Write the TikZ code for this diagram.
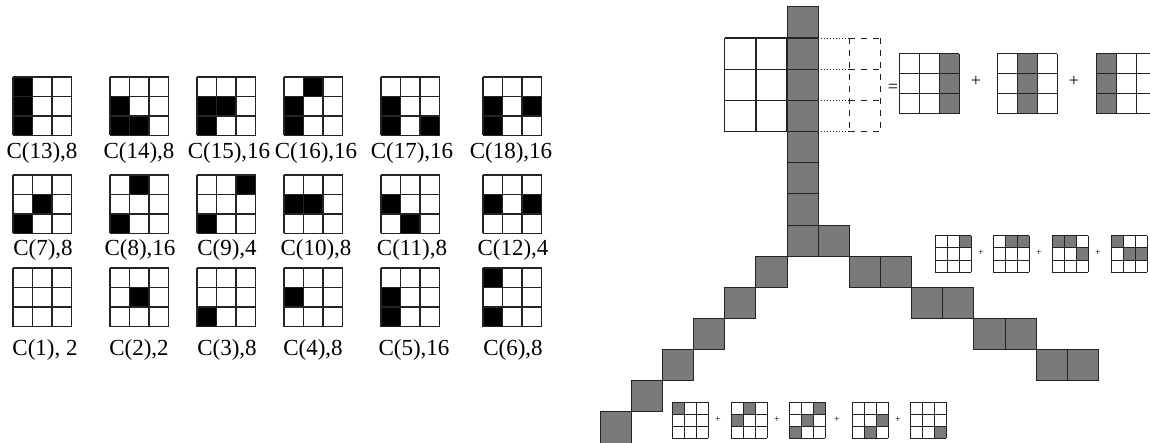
\documentclass[tikz,border=0pt]{standalone}
\usepackage{fontspec}
\setmainfont{Liberation Serif}
\definecolor{ink}{RGB}{35,35,35}
\definecolor{halftone}{RGB}{122,122,122}

% 3x3 pattern: left, top, cell size, fill colour, filled cells row/col
\newcommand{\patgrid}[5]{%
  \foreach \rr/\cc in {#5} {\fill[#4] ({#1+\cc*#3},{#2+\rr*#3}) rectangle ++(#3,#3);}
  \foreach \i in {0,...,3} {
    \draw[gridline] ({#1+\i*#3},#2) -- ++(0,3*#3);
    \draw[gridline] (#1,{#2+\i*#3}) -- ++(3*#3,0);}
}
% one gray cell of the band (col, row), band scope units
\newcommand{\bandcell}[2]{\draw[band] (#1,#2) rectangle ++(1,1);}

\begin{document}
\begin{tikzpicture}[x=0.5pt,y=-0.5pt,
  gridline/.style={draw=ink,line width=0.65pt},
  lbl/.style={font=\fontsize{11.5}{13}\selectfont,inner sep=0pt},
  band/.style={fill=halftone,draw=ink,line width=0.5pt},
  sign/.style={font=\fontsize{9}{9}\selectfont,inner sep=0pt},
  tinysign/.style={font=\fontsize{5}{5}\selectfont,inner sep=0pt}]
\useasboundingbox (0,0) rectangle (1150,443);

% configurations C(1)..C(18)
\patgrid{13}{77}{19.5}{black}{0/0,1/0,2/0}
\patgrid{110}{77}{19.5}{black}{1/0,2/0,2/1}
\patgrid{197}{77}{19.5}{black}{1/0,1/1,2/0}
\patgrid{284}{77}{19.5}{black}{0/1,1/0,2/0}
\patgrid{381}{77}{19.5}{black}{1/0,2/0,2/2}
\patgrid{483}{77}{19.5}{black}{1/0,2/0,1/2}
\node[lbl] (c13) at (42,153) {C(13),8};
\node[lbl] (c14) at (139,153) {C(14),8};
\node[lbl] (c15) at (229,153) {C(15),16};
\node[lbl] (c16) at (316,153) {C(16),16};
\node[lbl] (c17) at (412,153) {C(17),16};
\node[lbl] (c18) at (511,153) {C(18),16};

\patgrid{13}{175}{19.5}{black}{1/1,2/0}
\patgrid{110}{175}{19.5}{black}{0/1,2/0}
\patgrid{197}{175}{19.5}{black}{0/2,2/0}
\patgrid{284}{175}{19.5}{black}{1/0,1/1}
\patgrid{381}{175}{19.5}{black}{1/0,2/1}
\patgrid{483}{175}{19.5}{black}{1/0,1/2}
\node[lbl] (c7) at (43,250) {C(7),8};
\node[lbl] (c8) at (140,250) {C(8),16};
\node[lbl] (c9) at (227,250) {C(9),4};
\node[lbl] (c10) at (316,250) {C(10),8};
\node[lbl] (c11) at (412,250) {C(11),8};
\node[lbl] (c12) at (513,250) {C(12),4};

\patgrid{13}{268}{19.5}{white}{0/0}
\patgrid{110}{268}{19.5}{black}{1/1}
\patgrid{197}{268}{19.5}{black}{2/0}
\patgrid{284}{268}{19.5}{black}{1/0}
\patgrid{381}{268}{19.5}{black}{1/0,2/0}
\patgrid{483}{268}{19.5}{black}{0/0,2/0}
\node[lbl] (c1) at (45,350) {C(1), 2};
\node[lbl] (c2) at (139,350) {C(2),2};
\node[lbl] (c3) at (227,350) {C(3),8};
\node[lbl] (c4) at (313,350) {C(4),8};
\node[lbl] (c5) at (414,350) {C(5),16};
\node[lbl] (c6) at (513,350) {C(6),8};

% Y-shaped band with the 3x5 window, in cell units
\begin{scope}[shift={(787,7)},x=15.575pt,y=-15.575pt]
\foreach \r in {0,...,7} {\bandcell{0}{\r}}
\bandcell{1}{7}
\foreach \k in {1,...,6} {\bandcell{-\k}{7+\k}}
\foreach \k in {1,...,4} {\bandcell{2*\k}{7+\k}\bandcell{2*\k+1}{7+\k}}
\foreach \i in {1,...,4} {
  \draw[gridline] (-2,\i) -- (1,\i);
  \draw[ink,densely dotted,line width=0.5pt] (1,\i) -- (2,\i);
  \draw[ink,dashed,line width=0.5pt] (2,\i) -- (3,\i);}
\foreach \i in {-2,-1,0} {\draw[gridline] (\i,1) -- (\i,4);}
\foreach \i in {2,3} {\draw[ink,dashed,line width=0.5pt] (\i,1) -- (\i,4);}
\end{scope}

% column split
\node[sign] (eq) at (893,88) {=};
\begin{scope}[gridline/.style={draw=ink,line width=0.5pt}]
\patgrid{899}{54}{20}{halftone}{0/2,1/2,2/2}
\patgrid{997}{54}{20}{halftone}{0/1,1/1,2/1}
\patgrid{1096}{54}{20}{halftone}{0/0,1/0,2/0}
\node[sign] (p1) at (976,81) {+};
\node[sign] (p2) at (1074,81) {+};

% right arm split
\patgrid{935}{236}{12}{halftone}{0/2}
\patgrid{993}{236}{12}{halftone}{0/1,0/2}
\patgrid{1052}{236}{12}{halftone}{0/0,0/1,1/2}
\patgrid{1111}{236}{12}{halftone}{0/0,1/1,1/2}
\node[tinysign] (p3) at (981,253) {+};
\node[tinysign] (p4) at (1039,253) {+};
\node[tinysign] (p5) at (1098,253) {+};

% left arm split
\patgrid{672}{402}{12}{halftone}{0/0}
\patgrid{731}{402}{12}{halftone}{0/1,1/0}
\patgrid{789}{402}{12}{halftone}{0/2,1/1,2/0}
\patgrid{852}{402}{12}{halftone}{1/2,2/1}
\patgrid{910}{402}{12}{halftone}{2/2}
\node[tinysign] (p6) at (718,420) {+};
\node[tinysign] (p7) at (777,420) {+};
\node[tinysign] (p8) at (837,420) {+};
\node[tinysign] (p9) at (898,420) {+};
\end{scope}
\end{tikzpicture}
\end{document}
